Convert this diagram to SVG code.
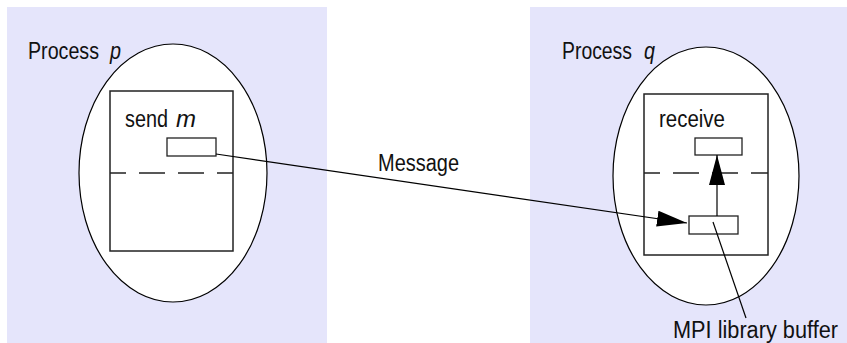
<svg xmlns="http://www.w3.org/2000/svg" width="847" height="343" viewBox="0 0 847 343">
<style>
.panel{fill:#e5e5fb;stroke:none}
.proc{fill:#fff;stroke:#000;stroke-width:1.2}
.box{fill:#fff;stroke:#222;stroke-width:1.5}
.buf{fill:#fff;stroke:#222;stroke-width:1.3}
.dash{stroke:#222;stroke-width:1.3;stroke-dasharray:26 13;stroke-dashoffset:10;fill:none}
.conn{stroke:#000;stroke-width:1.2;fill:none}
text{font-family:"Liberation Sans","Arial",sans-serif;font-size:23px;fill:#111}
.it{font-style:italic}
</style>
<defs>
<marker id="ah" markerUnits="userSpaceOnUse" markerWidth="32" markerHeight="20" refX="30" refY="8" orient="auto">
<path d="M0,0 L30,8 L0,16 Z" fill="#000"/>
</marker>
</defs>
<g id="processP">
<rect class="panel" x="7" y="7" width="320" height="336"/>
<text x="28" y="59" textLength="71" lengthAdjust="spacingAndGlyphs">Process</text>
<text class="it" x="110" y="59" textLength="11" lengthAdjust="spacingAndGlyphs">p</text>
<ellipse class="proc" cx="173" cy="173" rx="94" ry="129"/>
<rect class="box" x="110" y="91" width="123" height="160"/>
<line class="dash" x1="110" y1="173" x2="233" y2="173"/>
<text x="125" y="127" textLength="43" lengthAdjust="spacingAndGlyphs">send</text>
<text class="it" x="176" y="127" textLength="20" lengthAdjust="spacingAndGlyphs">m</text>
<rect id="sendBuf" class="buf" x="167" y="138" width="49" height="18"/>
</g>
<g id="processQ">
<rect class="panel" x="530" y="7" width="317" height="336"/>
<text x="562" y="59" textLength="70" lengthAdjust="spacingAndGlyphs">Process</text>
<text class="it" x="644" y="59" textLength="11" lengthAdjust="spacingAndGlyphs">q</text>
<ellipse class="proc" cx="706" cy="176" rx="93" ry="129"/>
<rect class="box" x="644" y="94" width="124" height="161"/>
<line class="dash" x1="644" y1="173" x2="768" y2="173"/>
<text x="659" y="127" textLength="66" lengthAdjust="spacingAndGlyphs">receive</text>
<rect id="recvBuf" class="buf" x="695" y="138" width="47" height="17"/>
<rect id="mpiBuf" class="buf" x="689" y="216" width="49" height="18"/>
<text x="673" y="338" textLength="165" lengthAdjust="spacingAndGlyphs">MPI library buffer</text>
</g>
<g id="connectors">
<line class="conn" x1="216" y1="154" x2="687" y2="223" marker-end="url(#ah)"/>
<text x="378" y="171" textLength="81" lengthAdjust="spacingAndGlyphs">Message</text>
<line class="conn" x1="717" y1="216" x2="717" y2="155" marker-end="url(#ah)"/>
<line class="conn" x1="713" y1="222" x2="746" y2="318"/>
</g>
</svg>
